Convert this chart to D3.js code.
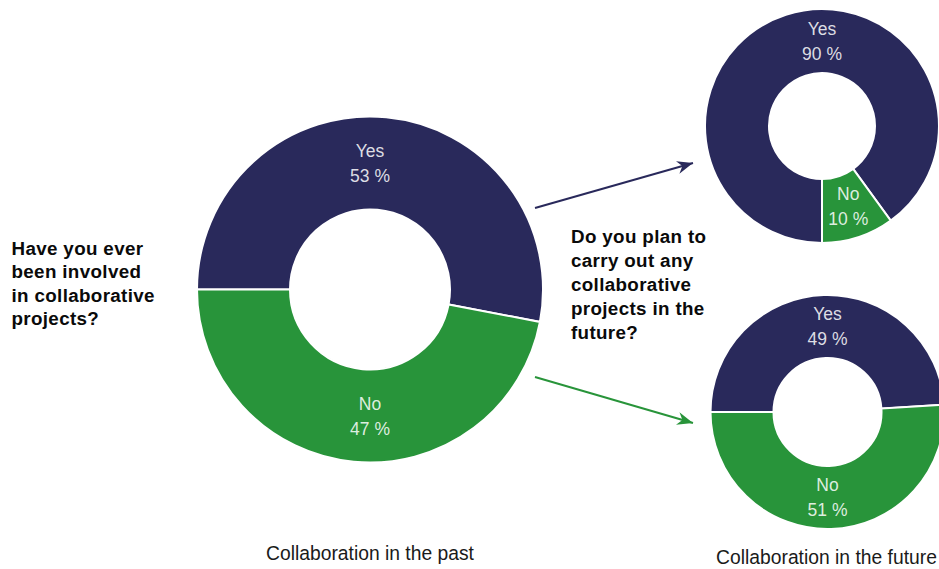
<!DOCTYPE html>
<html>
<head>
<meta charset="utf-8">
<script src="https://cdn.jsdelivr.net/npm/d3@7"></script>
<style>
  html, body { margin: 0; padding: 0; background: #fff; }
  svg { display: block; }
  text { font-family: "Liberation Sans", Arial, sans-serif; }
</style>
</head>
<body>
<svg id="chart" width="939" height="569"></svg>
<script>
// ---- data ----
const categories = ["Yes", "No"];
const pastValues = [53, 47];          // Collaboration in the past
const futureAfterYesValues = [90, 10]; // future plans (upper donut)
const futureAfterNoValues = [49, 51];  // future plans (lower donut)
const questionPast = ["Have you ever", "been involved", "in collaborative", "projects?"];
const questionFuture = ["Do you plan to", "carry out any", "collaborative", "projects in the", "future?"];
const captionPast = "Collaboration in the past";
const captionFuture = "Collaboration in the future";

// ---- style ----
const navy = "#29295b";
const green = "#28943a";
const color = d3.scaleOrdinal().domain(categories).range([navy, green]);

const svg = d3.select("#chart");
svg.append("rect").attr("width", 939).attr("height", 569).attr("fill", "#fff");

const defs = svg.append("defs");
[["navy", navy], ["green", green]].forEach(([id, c]) => {
  defs.append("marker")
    .attr("id", "arrow-" + id)
    .attr("viewBox", "-16 -7 18 14")
    .attr("refX", 0).attr("refY", 0)
    .attr("markerWidth", 18).attr("markerHeight", 14)
    .attr("markerUnits", "userSpaceOnUse")
    .attr("orient", "auto")
    .append("path")
    .attr("d", "M0,0 L-16,-6.5 L-11,0 L-16,6.5 Z")
    .attr("fill", c);
});

function donut(values, opts) {
  const pie = d3.pie().sort(null).value(d => d)
    .startAngle(opts.start).endAngle(opts.start + 2 * Math.PI);
  const arcs = pie(values).map((a, i) => Object.assign(a, { cat: categories[i] }));
  const arc = d3.arc().innerRadius(opts.ri).outerRadius(opts.ro);
  const g = svg.append("g").attr("transform", `translate(${opts.cx},${opts.cy})`);
  g.selectAll("path").data(arcs).join("path")
    .attr("d", arc)
    .attr("fill", d => color(d.cat))
    .attr("stroke", "#fff")
    .attr("stroke-width", 2);

  const rMid = (opts.ri + opts.ro) / 2;
  const margin = 0.35;
  const labelAngle = d => {
    for (const t of [0, Math.PI]) {
      for (let k = -2; k <= 2; k++) {
        const a = t + k * 2 * Math.PI;
        if (a >= d.startAngle + margin && a <= d.endAngle - margin) return a;
      }
    }
    return (d.startAngle + d.endAngle) / 2;
  };
  const lbl = g.selectAll("text.lbl").data(arcs).join("text")
    .attr("class", "lbl")
    .attr("text-anchor", "middle")
    .attr("fill", "#ffffff")
    .attr("fill-opacity", 0.85)
    .style("font-size", "17.5px")
    .attr("transform", d => {
      const a = labelAngle(d);
      return `translate(${rMid * Math.sin(a)},${-rMid * Math.cos(a)})`;
    });
  lbl.append("tspan").attr("x", 0).attr("y", -12.5).attr("dominant-baseline", "central").text(d => d.cat);
  lbl.append("tspan").attr("x", 0).attr("y", 12.5).attr("dominant-baseline", "central").text(d => d.value + " %");
}

donut(pastValues, { cx: 370, cy: 289.5, ro: 173, ri: 80, start: -Math.PI / 2 });
donut(futureAfterYesValues, { cx: 822, cy: 126, ro: 117, ri: 53, start: Math.PI });
donut(futureAfterNoValues, { cx: 827.5, cy: 412, ro: 117, ri: 54, start: -Math.PI / 2 });

// arrows
svg.append("line").attr("x1", 535).attr("y1", 208).attr("x2", 693).attr("y2", 163)
  .attr("stroke", navy).attr("stroke-width", 2).attr("marker-end", "url(#arrow-navy)");
svg.append("line").attr("x1", 535).attr("y1", 377).attr("x2", 693).attr("y2", 423)
  .attr("stroke", green).attr("stroke-width", 2).attr("marker-end", "url(#arrow-green)");

// question texts
function block(lines, x, y0, lh) {
  const t = svg.append("text").attr("fill", "#0a0a0a")
    .style("font-size", "18.8px").style("font-weight", "bold").style("letter-spacing", "0.35px");
  lines.forEach((l, i) => t.append("tspan").attr("x", x).attr("y", y0 + i * lh)
    .attr("dominant-baseline", "central").text(l));
}
block(questionPast, 11.5, 248, 23.6);
block(questionFuture, 571, 236, 24);

// captions
svg.append("text").attr("x", 370).attr("y", 553).attr("text-anchor", "middle")
  .attr("dominant-baseline", "central").attr("fill", "#1a1a1a").style("font-size", "19.3px").text(captionPast);
svg.append("text").attr("x", 826.5).attr("y", 557).attr("text-anchor", "middle")
  .attr("dominant-baseline", "central").attr("fill", "#1a1a1a").style("font-size", "19.3px").text(captionFuture);
</script>
</body>
</html>
